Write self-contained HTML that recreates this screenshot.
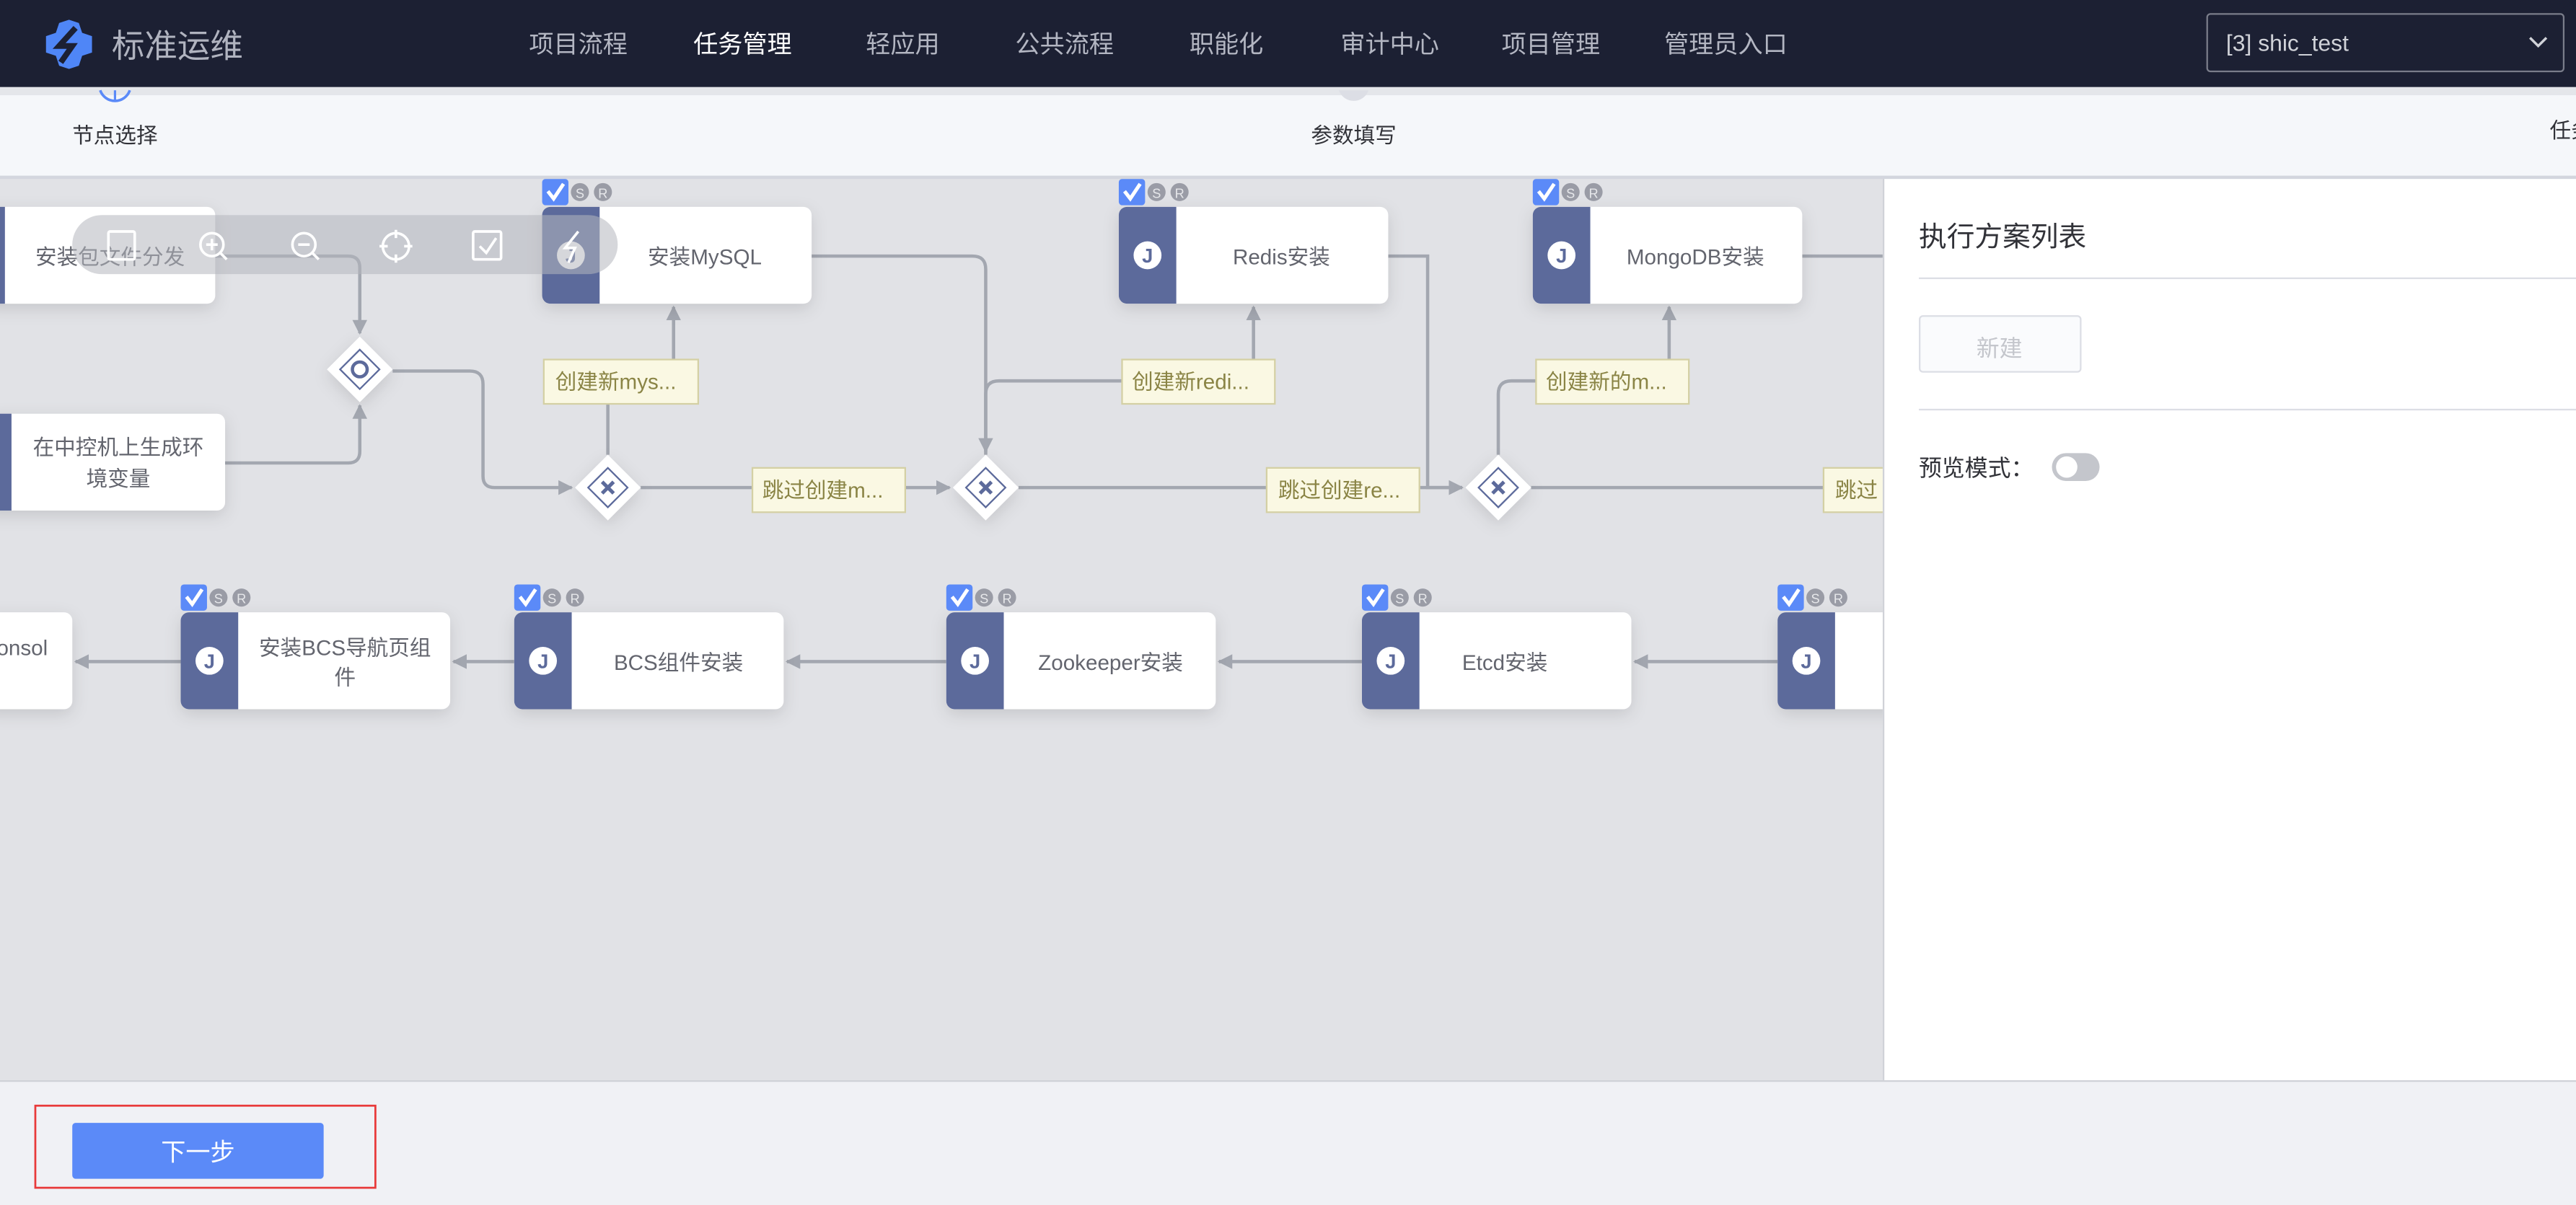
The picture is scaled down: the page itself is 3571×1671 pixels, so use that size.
<!DOCTYPE html>
<html><head><meta charset="utf-8"><style>
html,body{margin:0;padding:0;background:#e1e2e6;}
svg{display:block;}
text{font-family:"Liberation Sans","Noto Sans CJK SC",sans-serif;}
</style></head><body>
<svg width="3571" height="1671" viewBox="0 0 1568 734" preserveAspectRatio="none" xmlns="http://www.w3.org/2000/svg">
<defs>
<filter id="sh" x="-20%" y="-30%" width="140%" height="170%"><feDropShadow dx="0" dy="3" stdDeviation="5" flood-color="#000" flood-opacity="0.12"/></filter>
<marker id="ar" viewBox="0 0 10 10" refX="9" refY="5" markerWidth="4.5" markerHeight="4.5" orient="auto-start-reverse"><path d="M0,0 L10,5 L0,10 z" fill="#a3a7b0"/></marker>
<g id="node">
<rect width="164" height="59" rx="5" fill="#fff" filter="url(#sh)"/>
<path d="M5,0 H35 V59 H5 A5,5 0 0 1 0,54 V5 A5,5 0 0 1 5,0z" fill="#5c6a9b"/>
<circle cx="17.5" cy="29.5" r="8.5" fill="#fff"/>
<text x="17.5" y="34" font-size="12" font-weight="bold" fill="#5c6a9b" text-anchor="middle">J</text>
<rect x="0" y="-17" width="16" height="16" rx="2" fill="#5b8af8"/>
<path d="M3.5,-9.5 L7,-5 L13,-14" stroke="#fff" stroke-width="2.2" fill="none"/>
<circle cx="23" cy="-9" r="5.5" fill="#9a9ca6"/><text x="23" y="-5.5" font-size="8" fill="#e6e7ea" text-anchor="middle">S</text>
<circle cx="37" cy="-9" r="5.5" fill="#9a9ca6"/><text x="37" y="-5.5" font-size="8" fill="#e6e7ea" text-anchor="middle">R</text>
</g>
</defs>

<!-- canvas bg -->
<rect x="0" y="0" width="1568" height="734" fill="#e1e2e6"/>

<!-- connectors -->
<g stroke="#a3a7b0" stroke-width="2" fill="none">
<path d="M131,156 H212 Q219,156 219,163 V203" marker-end="url(#ar)"/>
<path d="M137,282 H212 Q219,282 219,275 V247" marker-end="url(#ar)"/>
<path d="M239,226 H286 Q294,226 294,234 V290 Q294,297 301,297 H348" marker-end="url(#ar)"/>
<path d="M370,277 V232 H410 V187" marker-end="url(#ar)"/>
<path d="M390,297 H578" marker-end="url(#ar)"/>
<path d="M494,156 H592 Q600,156 600,164 V275" marker-end="url(#ar)"/>
<path d="M600,277 V240 Q600,232 608,232 H763 V187" marker-end="url(#ar)"/>
<path d="M620,297 H890" marker-end="url(#ar)"/>
<path d="M845,156 H869 V297 H890" marker-end="url(#ar)"/>
<path d="M912,277 V240 Q912,232 920,232 H1016 V187" marker-end="url(#ar)"/>
<path d="M932,297 H1146"/>
<path d="M1097,156 H1146"/>
<path d="M1082,403 H995" marker-end="url(#ar)"/>
<path d="M829,403 H742" marker-end="url(#ar)"/>
<path d="M576,403 H479" marker-end="url(#ar)"/>
<path d="M313,403 H276" marker-end="url(#ar)"/>
<path d="M110,403 H46" marker-end="url(#ar)"/>
</g>

<!-- row1 partial nodes -->
<rect x="-10" y="126" width="141" height="59" rx="5" fill="#fff" filter="url(#sh)"/>
<rect x="0" y="126" width="3" height="59" fill="#5c6a9b"/>
<text x="67" y="161" font-size="13" fill="#63656e" text-anchor="middle">安装包文件分发</text>
<rect x="-10" y="252" width="147" height="59" rx="5" fill="#fff" filter="url(#sh)"/>
<rect x="0" y="252" width="7" height="59" fill="#5c6a9b"/>
<text x="72" y="277" font-size="13" fill="#63656e" text-anchor="middle">在中控机上生成环</text>
<text x="72" y="296" font-size="13" fill="#63656e" text-anchor="middle">境变量</text>

<use href="#node" x="330" y="126"/><text x="429" y="161" font-size="13" fill="#63656e" text-anchor="middle">安装MySQL</text>
<use href="#node" x="681" y="126"/><text x="780" y="161" font-size="13" fill="#63656e" text-anchor="middle">Redis安装</text>
<use href="#node" x="933" y="126"/><text x="1032" y="161" font-size="13" fill="#63656e" text-anchor="middle">MongoDB安装</text>

<!-- row2 -->
<rect x="-10" y="373" width="54" height="59" rx="5" fill="#fff" filter="url(#sh)"/>
<text x="-2" y="399" font-size="13" fill="#63656e">onsol</text>
<use href="#node" x="110" y="373"/><text x="210" y="399" font-size="13" fill="#63656e" text-anchor="middle">安装BCS导航页组</text><text x="210" y="417" font-size="13" fill="#63656e" text-anchor="middle">件</text>
<use href="#node" x="313" y="373"/><text x="413" y="408" font-size="13" fill="#63656e" text-anchor="middle">BCS组件安装</text>
<use href="#node" x="576" y="373"/><text x="676" y="408" font-size="13" fill="#63656e" text-anchor="middle">Zookeeper安装</text>
<use href="#node" x="829" y="373"/><text x="916" y="408" font-size="13" fill="#63656e" text-anchor="middle">Etcd安装</text>
<use href="#node" x="1082" y="373"/>

<!-- gateways -->
<g>
<path d="M219,205 L239,225 L219,245 L199,225z" fill="#fff" filter="url(#sh)"/>
<path d="M219,213 L231,225 L219,237 L207,225z" fill="none" stroke="#5c6a9b" stroke-width="1"/>
<circle cx="219" cy="225" r="4.5" fill="none" stroke="#5c6a9b" stroke-width="2"/>
</g>
<g id="xg">
<path d="M370,277 L390,297 L370,317 L350,297z" fill="#fff" filter="url(#sh)"/>
<path d="M370,285 L382,297 L370,309 L358,297z" fill="none" stroke="#5c6a9b" stroke-width="1"/>
<path d="M366.5,293.5 L373.5,300.5 M373.5,293.5 L366.5,300.5" stroke="#5c6a9b" stroke-width="2.2"/>
</g>
<use href="#xg" x="230" y="0"/>
<use href="#xg" x="542" y="0"/>

<!-- labels -->
<g font-size="13" fill="#8a8445">
<rect x="331" y="219" width="94" height="27" fill="#faf8e3" stroke="#d4d0a4"/><text x="338" y="237">创建新mys...</text>
<rect x="458" y="285" width="93" height="27" fill="#faf8e3" stroke="#d4d0a4"/><text x="464" y="303">跳过创建m...</text>
<rect x="683" y="219" width="93" height="27" fill="#faf8e3" stroke="#d4d0a4"/><text x="689" y="237">创建新redi...</text>
<rect x="771" y="285" width="93" height="27" fill="#faf8e3" stroke="#d4d0a4"/><text x="778" y="303">跳过创建re...</text>
<rect x="935" y="219" width="93" height="27" fill="#faf8e3" stroke="#d4d0a4"/><text x="941" y="237">创建新的m...</text>
<rect x="1110" y="285" width="50" height="27" fill="#faf8e3" stroke="#d4d0a4"/><text x="1117" y="303">跳过</text>
</g>

<!-- toolbar overlay -->
<rect x="44" y="131" width="332" height="36" rx="18" fill="#b4b6be" fill-opacity="0.55"/>
<g stroke="#fff" stroke-width="1.6" fill="none">
<rect x="66" y="141" width="16" height="17" rx="1"/>
<circle cx="129" cy="149" r="7"/><path d="M125.5,149 H132.5 M129,145.5 V152.5 M134,154 L138,158"/>
<circle cx="185" cy="149" r="7"/><path d="M181.5,149 H188.5 M190,154 L194,158"/>
<circle cx="241" cy="150" r="8"/><path d="M241,140 V145 M241,155 V160 M231,150 H236 M246,150 H251"/>
<rect x="288" y="141" width="17" height="17" rx="1"/><path d="M292,150 L296,154 L302,145"/>
<path d="M352,141 L344,151 H350 L346,160"/>
</g>

<!-- right panel -->
<rect x="1146" y="108" width="422" height="550" fill="#fff"/>
<rect x="1146" y="108" width="1" height="550" fill="#d0d2d8"/>
<text x="1168" y="150" font-size="17" fill="#313238">执行方案列表</text>
<rect x="1168" y="169" width="400" height="1" fill="#dcdee5"/>
<rect x="1168.5" y="192.5" width="98" height="34" rx="2" fill="#fafbfd" stroke="#dcdee5"/>
<text x="1217" y="217" font-size="14" fill="#c4c6cc" text-anchor="middle">新建</text>
<rect x="1168" y="249" width="400" height="1" fill="#dcdee5"/>
<text x="1168" y="290" font-size="14" fill="#313238">预览模式：</text>
<rect x="1249" y="276" width="29" height="17" rx="8.5" fill="#c4c6cc"/>
<circle cx="1258" cy="284.5" r="6.5" fill="#fff"/>

<!-- step bar -->
<rect x="0" y="53" width="1568" height="55" fill="#f5f7fa"/>
<rect x="0" y="53" width="1568" height="5" fill="#e4e6ea"/>
<rect x="0" y="107" width="1568" height="2" fill="#d3d6de"/>
<path d="M61,55 A9.5,9.5 0 0 0 79,55" fill="none" stroke="#5b8af8" stroke-width="1.6"/>
<path d="M70,55 V62" stroke="#5b8af8" stroke-width="1.4"/>
<path d="M815,55 A9.5,9.5 0 0 0 833,55" fill="#dcdee5"/>
<text x="70" y="87" font-size="13" fill="#313238" text-anchor="middle">节点选择</text>
<text x="824" y="87" font-size="13" fill="#313238" text-anchor="middle">参数填写</text>
<text x="1552" y="84" font-size="13" fill="#313238">任务</text>

<!-- top nav -->
<rect x="0" y="0" width="1568" height="53" fill="#1c2033"/>
<g fill="#4f86f7">
<path d="M42,12 L48,14 L50,20 L56,22 L56,32 L50,34 L48,40 L42,42 L36,40 L34,34 L28,32 L28,22 L34,20 L36,14z"/>
</g>
<path d="M46,17 L36,28 L44,28 L37,38" stroke="#1c2033" stroke-width="3.5" fill="none"/>
<text x="68" y="35" font-size="20" fill="#b0b3bf">标准运维</text>
<g font-size="15" fill="#b3b6c2">
<text x="322" y="32">项目流程</text>
<text x="422" y="32" fill="#fff">任务管理</text>
<text x="527" y="32">轻应用</text>
<text x="618" y="32">公共流程</text>
<text x="724" y="32">职能化</text>
<text x="816" y="32">审计中心</text>
<text x="914" y="32">项目管理</text>
<text x="1013" y="32">管理员入口</text>
</g>
<rect x="1343.5" y="8.5" width="217" height="35" rx="2" fill="#1c2033" stroke="#7a7d8a"/>
<text x="1355" y="31" font-size="14" fill="#d0d2d8">[3] shic_test</text>
<path d="M1540,23 L1545,28 L1550,23" stroke="#d0d2d8" stroke-width="1.5" fill="none"/>

<!-- bottom bar -->
<rect x="0" y="658" width="1568" height="76" fill="#f0f1f5"/>
<rect x="0" y="658" width="1568" height="1" fill="#d0d2d8"/>
<rect x="21.5" y="673.5" width="207" height="50" fill="none" stroke="#e83a3a" stroke-width="1.2"/>
<rect x="44" y="684" width="153" height="34" rx="2" fill="#5b8af8"/>
<text x="120.5" y="707" font-size="15" fill="#fff" text-anchor="middle">下一步</text>
</svg>
</body></html>
